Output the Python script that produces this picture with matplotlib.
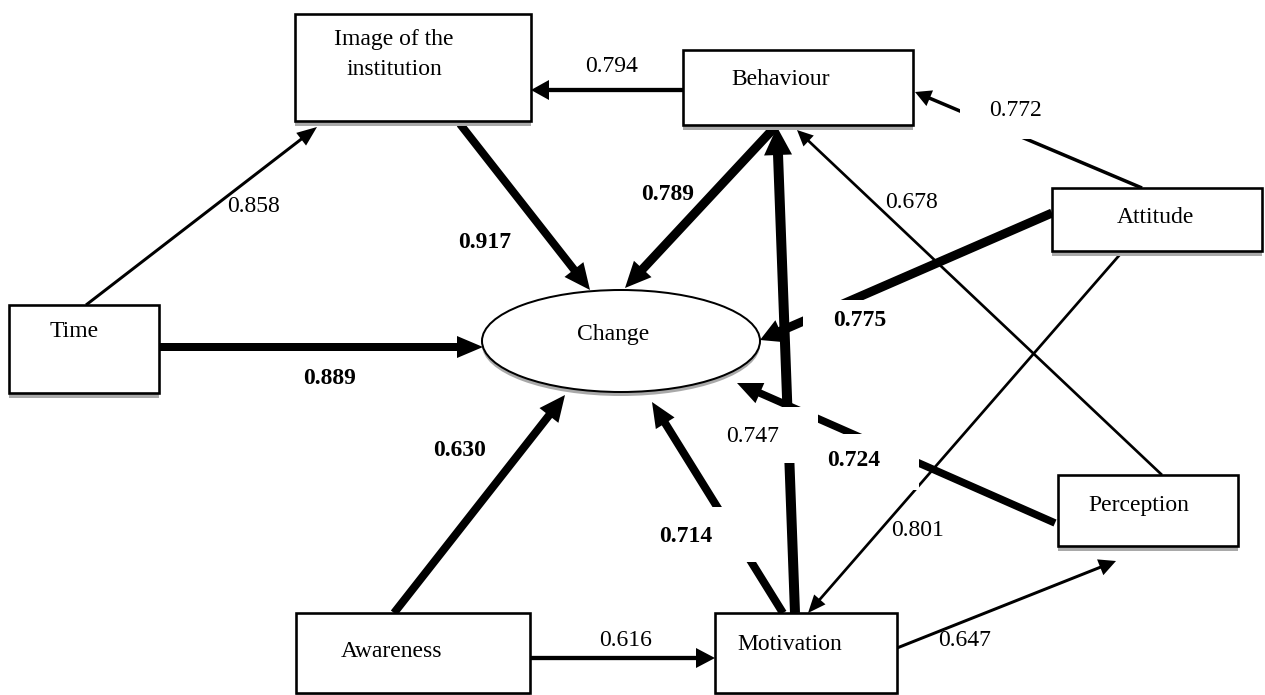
import matplotlib.pyplot as plt
import numpy as np
from matplotlib.patches import Rectangle, Ellipse, Polygon

# path model: variables, paths and standardised coefficients
sources = ["Time", "Time", "Image", "Behaviour", "Behaviour", "Attitude",
           "Perception", "Attitude", "Attitude", "Motivation", "Perception",
           "Motivation", "Awareness", "Awareness", "Motivation"]
targets = ["Image", "Change", "Change", "Image", "Change", "Behaviour",
           "Behaviour", "Change", "Motivation", "Behaviour", "Change",
           "Change", "Change", "Motivation", "Perception"]
coefficients = [0.858, 0.889, 0.917, 0.794, 0.789, 0.772, 0.678, 0.775,
                0.801, 0.747, 0.724, 0.714, 0.630, 0.616, 0.647]
names = {
    "Image": ["Image of the", "institution"],
    "Behaviour": ["Behaviour"],
    "Time": ["Time"],
    "Attitude": ["Attitude"],
    "Perception": ["Perception"],
    "Awareness": ["Awareness"],
    "Motivation": ["Motivation"],
    "Change": ["Change"],
}

# layout in pixels (y grows downwards)
W, H = 1265, 695
boxes = {
    "Image": (295, 14, 531, 121),
    "Behaviour": (683, 50, 913, 125),
    "Time": (9, 305, 159, 393),
    "Attitude": (1052, 188, 1262, 251),
    "Perception": (1058, 475, 1238, 546),
    "Awareness": (296, 613, 530, 693),
    "Motivation": (715, 613, 897, 693),
}
ellipse = (621, 341, 278, 102)
name_pos = {
    "Image": [(394, 45), (394, 75)],
    "Behaviour": [(781, 85)],
    "Time": [(74, 337)],
    "Attitude": [(1155, 223)],
    "Perception": [(1139, 511)],
    "Awareness": [(392, 657)],
    "Motivation": [(790, 650)],
    "Change": [(613, 340)],
}
# start, tip, line width px, head length px, head width px, label centre, white mask
routes = [
    ((86, 305), (317, 127), 3.0, 20, 16, (253, 206), None),
    ((159, 347), (483, 347), 8.0, 26, 22, (330, 378), None),
    ((460, 124), (590, 290), 8.0, 26, 24, (485, 243), None),
    ((683, 90), (531, 90), 4.3, 18, 20, (612, 66), None),
    ((775, 127), (625, 288), 9.0, 26, 24, (668, 195), None),
    ((1142, 188), (915, 92), 3.5, 16, 17, (1016, 111), (960, 75, 1080, 139)),
    ((1162, 475), (797, 130), 2.7, 16, 15, (912, 203), None),
    ((1052, 213), (760, 340), 9.0, 22, 24, (860, 320), (803, 300, 917, 340)),
    ((1123, 251), (808, 613), 2.7, 18, 15, (918, 530), None),
    ((795, 613), (777, 127), 10.0, 28, 28, (753, 436), (700, 407, 818, 463)),
    ((1055, 523), (737, 383), 7.5, 25, 22, (854, 461), (822, 434, 919, 490)),
    ((783, 613), (652, 402), 8.0, 25, 22, (686, 536), (648, 507, 765, 562)),
    ((394, 613), (565, 395), 8.0, 26, 24, (460, 451), None),
    ((530, 658), (715, 658), 4.3, 19, 20, (626, 641), None),
    ((897, 648), (1116, 561), 3.0, 17, 17, (965, 640), None),
]

FONT = ["Liberation Serif", "DejaVu Serif"]
PT = 0.72  # points per pixel at 100 dpi
SHADE = "#a9a9a9"


def arrow(ax, p0, p1, lw, hl, hw):
    p0, p1 = np.array(p0, float), np.array(p1, float)
    u = (p1 - p0) / np.hypot(*(p1 - p0))
    n = np.array([-u[1], u[0]])
    base = p1 - u * hl
    end = base + u * 2
    ax.plot([p0[0], end[0]], [p0[1], end[1]], color="black", lw=lw * PT,
            solid_capstyle="butt", zorder=1)
    ax.add_patch(Polygon([p1, base + n * hw / 2, base - n * hw / 2],
                         closed=True, facecolor="black", edgecolor="none", zorder=1))


fig = plt.figure(figsize=(W / 100, H / 100), dpi=100)
ax = fig.add_axes([0, 0, 1, 1])
ax.set_xlim(0, W)
ax.set_ylim(H, 0)
ax.axis("off")

for (p0, p1, lw, hl, hw, _, _) in routes:
    arrow(ax, p0, p1, lw, hl, hw)

for key, (x0, y0, x1, y1) in boxes.items():
    ax.add_patch(Rectangle((x0, y1), x1 - x0, 5, facecolor=SHADE,
                           edgecolor="none", zorder=2))
    ax.add_patch(Rectangle((x0, y0), x1 - x0, y1 - y0, facecolor="white",
                           edgecolor="black", lw=2.6 * PT, zorder=2))

cx, cy, ew, eh = ellipse
ax.add_patch(Ellipse((cx, cy + 4), ew, eh, facecolor=SHADE, edgecolor="none", zorder=2))
ax.add_patch(Ellipse((cx, cy), ew, eh, facecolor="white", edgecolor="black",
                     lw=2.0 * PT, zorder=2))

for key, lines in names.items():
    for text, (x, y) in zip(lines, name_pos[key]):
        ax.text(x, y, text, ha="center", va="baseline", fontsize=17,
                family=FONT, zorder=5)

for src, dst, coef, route in zip(sources, targets, coefficients, routes):
    (lx, ly), mask = route[5], route[6]
    if mask is not None:
        mx0, my0, mx1, my1 = mask
        ax.add_patch(Rectangle((mx0, my0), mx1 - mx0, my1 - my0,
                               facecolor="white", edgecolor="none", zorder=3))
    ax.text(lx, ly, f"{coef:.3f}", ha="center", va="center", fontsize=17,
            family=FONT, fontweight="bold" if dst == "Change" else "normal",
            zorder=5)

fig.savefig("out.png", dpi=100)
